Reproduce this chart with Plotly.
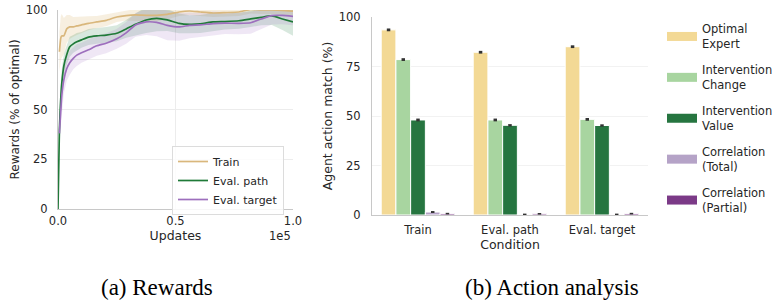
import plotly.graph_objects as go

# ---------------- data: left panel (rewards) ----------------
updates = [0, 600, 1200, 1600, 2500, 3700, 5000, 6500, 8000, 10000, 13000, 16500, 20500,
           25000, 29000, 33000, 37500, 42000, 46500, 51500, 56000, 60500, 66000, 71000,
           77000, 82000, 86500, 91000, 95500, 100000]
train_mean = [None, 79, 86, 87, 87, 90.5, 91.5, 91.5, 92, 92.5, 93.3, 94, 94.8, 96.5, 97.2,
              97.5, 97.3, 97.3, 97.8, 99, 99.5, 99, 98.5, 98.7, 99, 100.3, 100, 100, 99.8, 99.4]
train_sd = [None, 10, 11, 11, 9, 7, 6, 5, 4.5, 4, 3.5, 3, 3, 2.5, 2.5, 3, 3, 3, 2.5, 2, 2,
            2, 2, 2, 2, 2, 2, 2, 2, 2]
path_mean = [0, 40, 56, 63, 72, 77.5, 81.5, 83, 84, 85, 86.4, 87, 87.4, 88.3, 90.5, 92.8, 95,
             95.8, 95, 93.3, 92.8, 93, 94, 94.2, 94.6, 95.5, 96.3, 97, 95.5, 94]
path_sd = [0, 8, 8, 7, 6, 5, 5, 4.5, 4.5, 4, 4, 4, 4, 4, 4.5, 5.5, 6.5, 6.5, 5.5, 5, 4.5, 4.5,
           4.5, 4, 4, 4, 4, 4.5, 5.5, 7]
target_mean = [None, 38, 50, 57, 65, 70.5, 73.5, 75.7, 77.3, 78.5, 80, 82, 83.3, 85.5, 88.5,
               92.5, 94, 93.8, 92.3, 91.5, 92.3, 92.5, 93.2, 93.4, 93.3, 93.6, 95.5, 97.2,
               97.3, 96.8]
target_sd = [None, 8, 8, 8, 7, 6, 6, 5.5, 5.5, 5, 5, 5, 5, 5, 5.5, 6, 6.5, 7, 7.5, 7, 6.5, 6,
             6, 5.5, 5.5, 5.5, 5, 4.5, 4.5, 4.5]

# ---------------- data: right panel (action analysis) ----------------
conditions = ["Train", "Eval. path", "Eval. target"]
bar_names = ["Optimal<br>Expert", "Intervention<br>Change", "Intervention<br>Value",
             "Correlation<br>(Total)", "Correlation<br>(Partial)"]
optimal_expert = [93.5, 82.2, 85.0]
intervention_change = [78.5, 48.0, 48.3]
intervention_value = [48.0, 45.3, 45.2]
correlation_total = [1.5, 0.3, 0.3]
correlation_partial = [0.7, 0.6, 0.7]
bar_errors = [[0.7, 0.7, 0.7], [0.7, 0.7, 0.7], [0.7, 0.6, 0.6], [0.5, 0.4, 0.4], [0.4, 0.4, 0.4]]

line_colors = {"Train": "#d9b77c", "Eval. path": "#1f7a38", "Eval. target": "#9d6fbd"}
fill_colors = {"Train": "rgba(222,190,130,0.25)", "Eval. path": "rgba(40,130,70,0.18)",
               "Eval. target": "rgba(165,120,200,0.18)"}
bar_colors = ["#f3d995", "#a8d5a0", "#267540", "#b5a3c7", "#7b3a87"]

fig = go.Figure()

series = [("Train", train_mean, train_sd), ("Eval. path", path_mean, path_sd),
          ("Eval. target", target_mean, target_sd)]
for name, mean, sd in series:
    xs = [x for x, m in zip(updates, mean) if m is not None]
    ms = [m for m in mean if m is not None]
    ss = [s for s, m in zip(sd, mean) if m is not None]
    upper = [m + s for m, s in zip(ms, ss)]
    lower = [m - s for m, s in zip(ms, ss)]
    fig.add_trace(go.Scatter(x=xs + xs[::-1], y=upper + lower[::-1], fill="toself",
                             fillcolor=fill_colors[name], line=dict(width=0),
                             mode="lines", showlegend=False, hoverinfo="skip",
                             xaxis="x", yaxis="y"))
for name, mean, sd in series:
    xs = [x for x, m in zip(updates, mean) if m is not None]
    ms = [m for m in mean if m is not None]
    fig.add_trace(go.Scatter(x=xs, y=ms, mode="lines", name=name,
                             line=dict(color=line_colors[name], width=1.7, shape="spline",
                                       smoothing=0.5),
                             xaxis="x", yaxis="y", legend="legend"))

bar_values = [optimal_expert, intervention_change, intervention_value,
              correlation_total, correlation_partial]
for name, vals, err, col in zip(bar_names, bar_values, bar_errors, bar_colors):
    fig.add_trace(go.Bar(x=conditions, y=vals, name=name, marker=dict(color=col,
                         line=dict(color="white", width=1)),
                         error_y=dict(type="data", array=err, color="#333333",
                                      thickness=3.5, width=0),
                         showlegend=False, xaxis="x2", yaxis="y2"))
for i, (name, col) in enumerate(zip(bar_names, bar_colors)):
    fig.add_trace(go.Scatter(x=[None], y=[None], mode="lines", name=name,
                             line=dict(color=col, width=9), legendgroup=f"g{i}",
                             xaxis="x2", yaxis="y2", legend="legend2"))

tick_font = dict(family="DejaVu Sans", size=11.5, color="#262626")
grid = "#ececec"
spine = "#c8c8c8"

fig.update_layout(
    width=778, height=302,
    margin=dict(l=0, r=0, t=0, b=0, autoexpand=False),
    paper_bgcolor="white", plot_bgcolor="white",
    font=dict(family="DejaVu Sans", size=11, color="#262626"),
    barmode="group", bargap=0.2, bargroupgap=0,
    xaxis=dict(domain=[58 / 778, 293 / 778], range=[0, 100000], automargin=False,
               tickvals=[0, 50000, 100000], ticktext=["0.0", "0.5", "1.0"],
               showgrid=True, gridcolor=grid, zeroline=False,
               showline=True, linecolor=spine, linewidth=1, ticks="",
               tickfont=tick_font, ticklabelstandoff=1,
               title=dict(text="Updates", font=dict(size=12.5), standoff=0)),
    yaxis=dict(domain=[1 - 209 / 302, 1 - 10 / 302], range=[0, 100], automargin=False,
               tickvals=[0, 25, 50, 75, 100], showgrid=True, gridcolor=grid,
               zeroline=False, showline=True, linecolor=spine, linewidth=1, ticks="",
               tickfont=tick_font, ticklabelstandoff=7,
               title=dict(text="Rewards (% of optimal)", font=dict(size=12), standoff=3)),
    xaxis2=dict(domain=[372 / 778, 648 / 778], range=[-0.5, 2.5], type="category",
                showgrid=False, zeroline=False, showline=True, linecolor=spine,
                linewidth=1, ticks="", tickfont=tick_font, ticklabelstandoff=4,
                anchor="y2", automargin=False,
                title=dict(text="Condition", font=dict(size=12.5), standoff=0)),
    yaxis2=dict(domain=[1 - 215 / 302, 1 - 17 / 302], range=[0, 100], automargin=False,
                tickvals=[0, 25, 50, 75, 100], showgrid=True, gridcolor="#f2f2f2",
                zeroline=False, showline=True, linecolor=spine, linewidth=1, ticks="",
                tickfont=tick_font, ticklabelstandoff=8, anchor="x2",
                title=dict(text="Agent action match (%)", font=dict(size=12.5), standoff=3)),
    legend=dict(x=172 / 778, y=1 - 146 / 302, xanchor="left", yanchor="top",
                bgcolor="rgba(255,255,255,0.85)", bordercolor="#dcdcdc", borderwidth=1,
                font=dict(size=11, color="#262626"), itemwidth=30, tracegroupgap=0),
    legend2=dict(x=662 / 778, y=1 - 15 / 302, xanchor="left", yanchor="top",
                 bgcolor="rgba(0,0,0,0)", borderwidth=0, itemwidth=30,
                 font=dict(size=11.5, color="#262626"), tracegroupgap=8),
    annotations=[
        dict(text="1e5", x=293 / 778, y=1 - 236 / 302, xref="paper", yref="paper",
             xanchor="right", yanchor="middle", showarrow=False,
             font=dict(size=11.5, color="#262626")),
        dict(text="(a) Rewards", x=157 / 778, y=1 - 287 / 302, xref="paper", yref="paper",
             xanchor="center", yanchor="middle", showarrow=False,
             font=dict(family="Liberation Serif", size=23, color="black")),
        dict(text="(b) Action analysis", x=552 / 778, y=1 - 287 / 302, xref="paper",
             yref="paper", xanchor="center", yanchor="middle", showarrow=False,
             font=dict(family="Liberation Serif", size=23, color="black")),
    ],
)

fig.write_html("out.html", config={"displayModeBar": False},
               post_script="document.body.style.margin='0px';"
                           "document.body.style.overflow='hidden';")
